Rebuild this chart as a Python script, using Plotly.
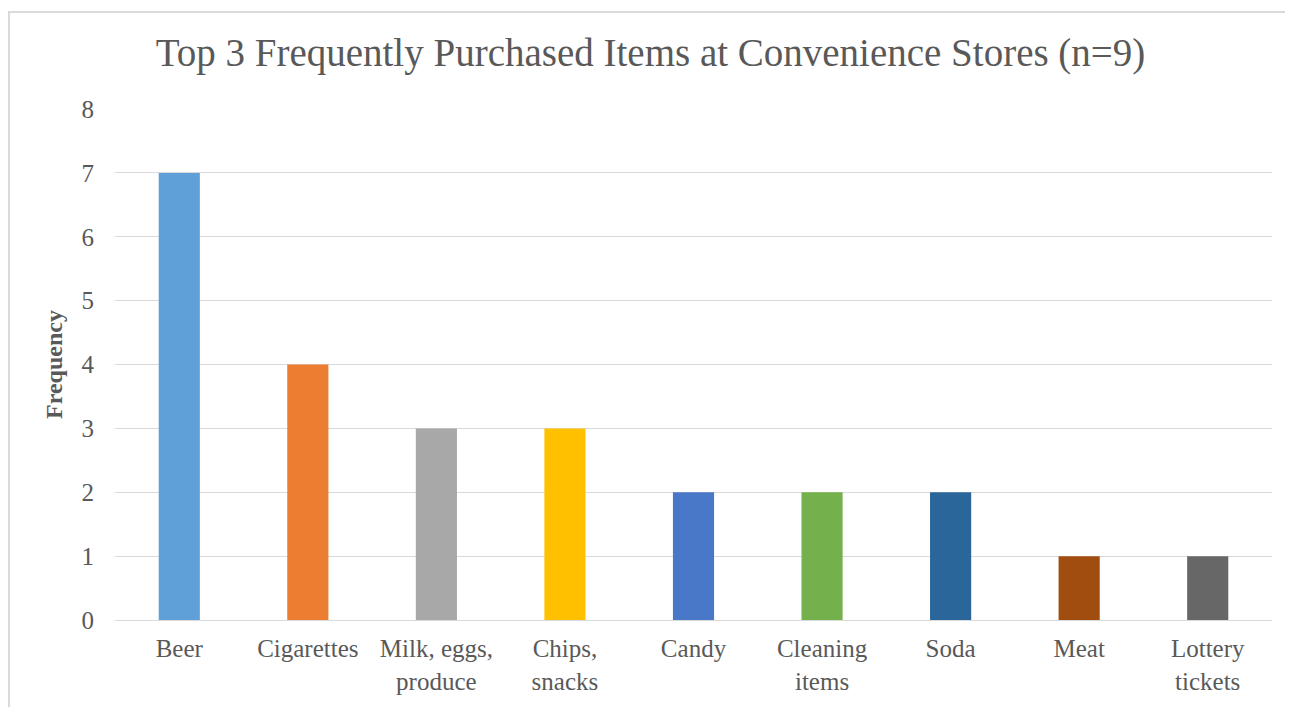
import plotly.graph_objects as go

categories = ["Beer", "Cigarettes", "Milk, eggs,<br>produce", "Chips,<br>snacks", "Candy",
              "Cleaning<br>items", "Soda", "Meat", "Lottery<br>tickets"]
frequency = [7, 4, 3, 3, 2, 2, 2, 1, 1]
colors = ["#5FA0D8", "#ED7D31", "#A8A8A8", "#FFC000", "#4A78C8",
          "#74B04C", "#2A6699", "#A24D10", "#676767"]

FONT = "Liberation Serif"
GRAY = "#595959"

W, H = 1285, 699
L, R, T, B = 107, 21, 101, 77
PW, PH = W - L - R, H - T - B

fig = go.Figure(go.Bar(x=categories, y=frequency, marker=dict(color=colors, line=dict(width=0))))

fig.update_layout(
    width=W, height=H,
    margin=dict(l=L, r=R, t=T, b=B),
    paper_bgcolor="white", plot_bgcolor="white",
    bargap=0.68,
    showlegend=False,
    font=dict(family=FONT, color=GRAY, size=25),
    title=dict(text="Top 3 Frequently Purchased Items at Convenience Stores (n=9)",
               x=0.5, xanchor="center", y=0.937, yanchor="middle",
               font=dict(family=FONT, size=39, color=GRAY)),
    xaxis=dict(showgrid=False, ticks="", tickfont=dict(family=FONT, size=25, color=GRAY),
               showline=False, zeroline=False, ticklabelstandoff=11),
    yaxis=dict(range=[0, 8], dtick=1, showgrid=True, gridcolor="#D9D9D9", gridwidth=1,
               zeroline=True, zerolinecolor="#D9D9D9", zerolinewidth=1,
               ticks="", ticklabelstandoff=20,
               tickfont=dict(family=FONT, size=25, color=GRAY),
               title=dict(text="<b>Frequency</b>", standoff=12,
                          font=dict(family=FONT, size=24, color=GRAY))),
)
fig.update_layout(shapes=[dict(type="rect", xref="paper", yref="paper",
                               x0=-(L - 1) / PW, x1=(W + 40 - L) / PW,
                               y0=-(B + 40) / PH, y1=1 + (T - 2) / PH,
                               line=dict(color="#D9D9D9", width=2), layer="below")])

fig.write_html("out.html")
